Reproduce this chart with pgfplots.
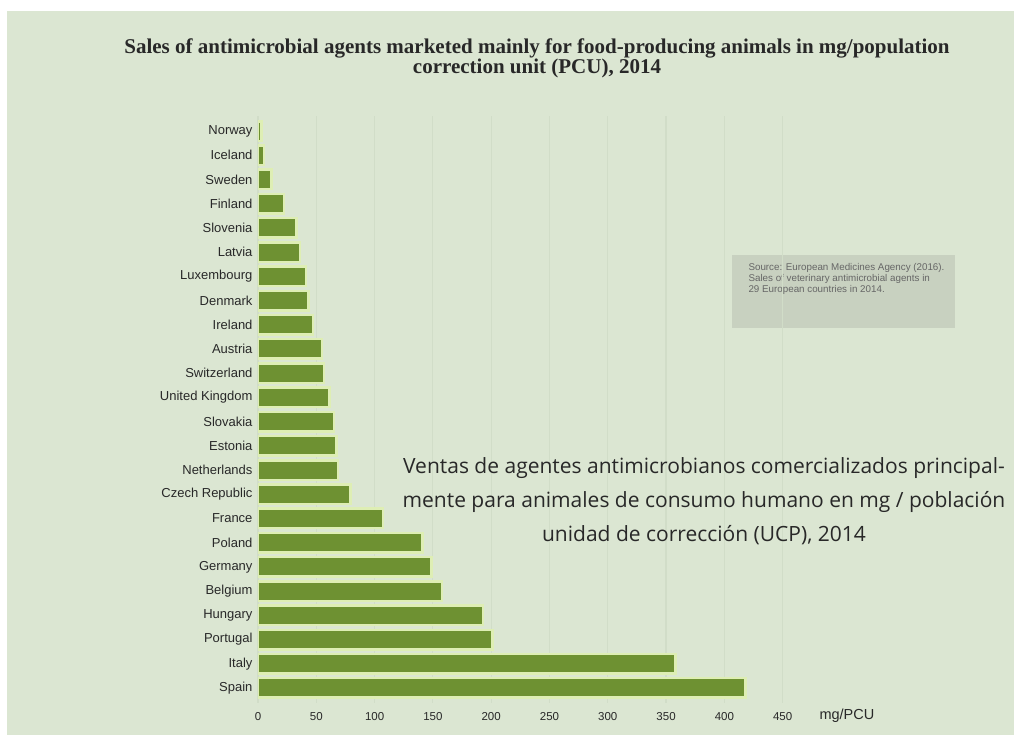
\documentclass[border=0pt]{standalone}
\usepackage{pgfplots}
\pgfplotsset{compat=1.18}
\usepackage{fontspec}
\setmainfont{Liberation Sans}
\newfontfamily\titlefont{Liberation Serif}
\newfontfamily\spanishfont{Open Sans}

\definecolor{bgpanel}{RGB}{219,230,210}
\definecolor{barfill}{RGB}{110,145,50}
\definecolor{baredge}{RGB}{222,238,180}
\definecolor{gridc}{RGB}{209,221,200}
\definecolor{boxc}{RGB}{200,209,192}
\definecolor{txt}{RGB}{40,40,40}

\begin{document}
\begin{tikzpicture}[x=1pt,y=1pt]
% page and panel
\fill[white] (0,0) rectangle (1014,735);
\fill[bgpanel] (7,0) rectangle (1014,724);

% title
\node[font=\titlefont\bfseries\fontsize{21}{19}\selectfont, align=center, text=txt]
  at (537,677) {Sales of antimicrobial agents marketed mainly for food-producing animals in mg/population\\correction unit (PCU), 2014};

% source box
\fill[boxc] (732,407) rectangle (955,480);
\node[font=\fontsize{9.8}{11}\selectfont, align=left, text=black!60, anchor=north west]
  at (745,475) {Source: European Medicines Agency (2016).\\Sales of veterinary antimicrobial agents in\\29 European countries in 2014.};

\begin{axis}[
  at={(258pt,618.5pt)}, anchor=north west,
  scale only axis, width=548pt, height=586pt,
  xbar, bar width=19.5pt,
  xmin=0, xmax=470, ymin=-0.6, ymax=23.6, y dir=reverse,
  axis line style={draw=none},
  major tick length=0pt,
  xtick={0,50,...,450},
  ytick={0,...,23},
  yticklabels={Norway,Iceland,Sweden,Finland,Slovenia,Latvia,Luxembourg,Denmark,Ireland,Austria,Switzerland,United Kingdom,Slovakia,Estonia,Netherlands,Czech Republic,France,Poland,Germany,Belgium,Hungary,Portugal,Italy,Spain},
  xmajorgrids, grid style={gridc, line width=1.2pt},
  xticklabel style={font=\fontsize{11.5}{13}\selectfont, text=txt, yshift=-6pt},
  yticklabel style={font=\fontsize{13}{15}\selectfont, text=txt, xshift=-2pt},
  /pgf/number format/assume math mode=true,
]
\addplot[fill=barfill, draw=baredge, line width=2.5pt] coordinates {
(3.1,0) (5.3,1) (11.5,2) (22.1,3) (33,4) (36,5) (41,6) (43.5,7)
(47,8) (55,9) (56.5,10) (61.5,11) (65,12) (67.5,13) (68.5,14) (79.5,15)
(107,16) (141,17) (149,18) (158,19) (193,20) (201,21) (358,22) (418,23)
};
\end{axis}

\node[font=\fontsize{14.5}{16}\selectfont, text=txt, anchor=west] at (816,19) {mg/PCU};

% Spanish overlay
\node[font=\spanishfont\fontsize{21}{34}\selectfont, align=center, text=txt]
  at (704,234) {Ventas de agentes antimicrobianos comercializados principal-\\mente para animales de consumo humano en mg / población\\unidad de corrección (UCP), 2014};
\end{tikzpicture}
\end{document}
